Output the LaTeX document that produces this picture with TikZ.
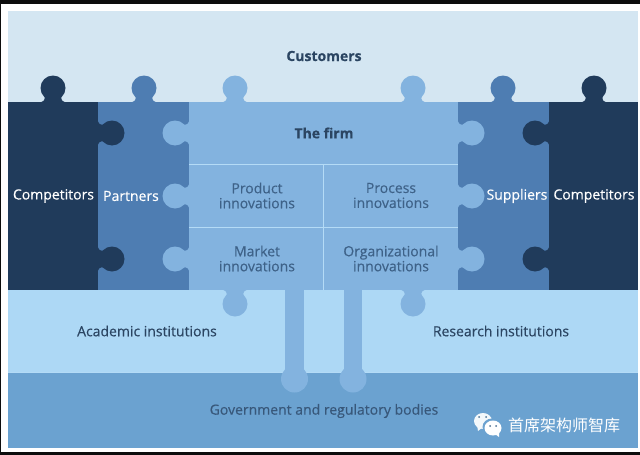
\documentclass[tikz,border=0pt]{standalone}
\usepackage{fontspec}
\setmainfont[RawFeature={embolden=0.35}]{Open Sans}
\newfontfamily\cjkfont{Noto Sans CJK SC}
\usepackage{tikz}
\usetikzlibrary{positioning, calc}

\definecolor{navypiece}{HTML}{203B5B}
\definecolor{midpiece}{HTML}{4E7DB2}
\definecolor{firmpiece}{HTML}{83B3DF}
\definecolor{skyband}{HTML}{D4E6F2}
\definecolor{paleband}{HTML}{ADD8F5}
\definecolor{govband}{HTML}{6BA2D0}
\definecolor{rulecol}{HTML}{B4DBF6}
\definecolor{inktext}{HTML}{2B4562}
\definecolor{softtext}{HTML}{3E6288}

\begin{document}
\begin{tikzpicture}[
  x=1pt, y=-1pt,
  every node/.style={font=\fontsize{14}{15}\selectfont, inner sep=0pt, align=center},
  band/.style={fill=#1, minimum width=630pt},
  piece/.style={fill=#1, minimum height=188pt},
  title/.style={text=inktext, font=\fontsize{14}{15}\selectfont\bfseries},
  cell/.style={text=softtext},
  outer/.style={text=inktext},
  whitelabel/.style={text=white},
  divider/.style={draw=rulecol, line width=1.2pt},
  knob/.pic={
    \path[pic actions, draw=none] (0,-14) circle[radius=12.5];
    \path[pic actions, draw=none]
      (-12.5,0.5) .. controls (-9.5,0) and (-8,-2) .. (-8.5,-5.5)
      -- (8.5,-5.5) .. controls (8,-2) and (9.5,0) .. (12.5,0.5) -- cycle;
  },
]
\useasboundingbox (0,0) rectangle (640,455);
\fill[white] (0,0) rectangle (640,455);
\fill[black!95] (0,0) rectangle (640,4);
\fill[black!95] (0,452) rectangle (640,455);
\fill[black!95] (0,0) rectangle (1.2,455);

%% ROW 0 -- bands behind the pieces
\node[band=skyband, minimum height=91pt, anchor=north west] (customers) at (8,11) {};
\node[band=paleband, minimum height=82pt, anchor=north west] (institutes) at (8,290) {};
\node[band=govband, minimum height=76pt, anchor=north west] (government) at (8,372) {};
\draw[rulecol, line width=0.8pt] (government.north west) -- (government.north east);

%% ROW 1 -- the pieces, outer ones first
\node[piece=navypiece, minimum width=90pt, anchor=north west] (compL) at (8,102) {};
\node[piece=midpiece, minimum width=91pt, anchor=north west] (partners) at (98,102) {};
\node[piece=firmpiece, minimum width=269pt, anchor=north west] (firm) at (189,102) {};
\node[piece=midpiece, minimum width=91pt, anchor=north west] (suppliers) at (458,102) {};
\node[piece=navypiece, minimum width=89pt, anchor=north west] (compR) at (549,102) {};

%% knobs on top of every piece
\foreach \xpos/\col in {53/navypiece, 144/midpiece, 235/firmpiece,
                        413/firmpiece, 503/midpiece, 594/navypiece}
  \pic[fill=\col] at (\xpos,102) {knob};

%% knobs of the outer pieces, pointing inwards
\foreach \ypos in {133,259} {
  \pic[fill=navypiece, rotate=-90] at (98,\ypos) {knob};
  \pic[fill=navypiece, rotate=90] at (549,\ypos) {knob};
}

%% knobs of the firm, left / right / below
\foreach \ypos in {133,196,259} {
  \pic[fill=firmpiece, rotate=90] at (189,\ypos) {knob};
  \pic[fill=firmpiece, rotate=-90] at (458,\ypos) {knob};
}
\foreach \xpos in {235,413}
  \pic[fill=firmpiece, rotate=180] at (\xpos,290) {knob};

%% long stems down to the government band
\fill[firmpiece] (285,290) rectangle (304,372);
\fill[firmpiece] (344,290) rectangle (362,372);
\fill[firmpiece] (294.5,379) circle[radius=13.5];
\fill[firmpiece] (353,379) circle[radius=13.5];

%% dividers inside the firm
\coordinate (ruleA) at (189,164.5);
\coordinate (ruleB) at (458,164.5);
\coordinate (ruleC) at (189,227.5);
\coordinate (ruleD) at (458,227.5);
\coordinate (ruleE) at (323.5,164.5);
\coordinate (ruleF) at (323.5,290);
\draw[divider] (ruleA) -- (ruleB);
\draw[divider] (ruleC) -- (ruleD);
\draw[divider] (ruleE) -- (ruleF);

%% labels
\node[title] (lblCustomers) at (324,56) {Customers};
\node[title] (lblFirm) at (324,133) {The firm};
\node[whitelabel] (lblCompL) at (53.5,196) {Competitors};
\node[whitelabel] (lblPartners) at (131,196) {Partners};
\node[whitelabel] (lblSuppliers) at (517,196) {Suppliers};
\node[whitelabel] (lblCompR) at (594,196) {Competitors};
\node[cell] (lblProduct) at (257,195.5) {Product\\innovations};
\node[cell] (lblProcess) at (391,195.5) {Process\\innovations};
\node[cell] (lblMarket) at (257,258.5) {Market\\innovations};
\node[cell] (lblOrg) at (391,258.5) {Organizational\\innovations};
\node[outer] (lblAcademic) at (147,331) {Academic institutions};
\node[outer] (lblResearch) at (501,331) {Research institutions};
\node[outer, text=softtext!90!black] (lblGov) at (324,411) {Government and regulatory bodies};

%% chat bubbles and caption in the corner
\fill[white!92!govband] (483,421) ellipse[x radius=9, y radius=8];
\fill[white!92!govband] (478,431) -- (477,425) -- (483,427) -- cycle;
\fill[govband] (492,427) ellipse[x radius=9.5, y radius=8.5];
\fill[white] (493,428) ellipse[x radius=8.5, y radius=7.5];
\fill[white] (499,437) -- (499,432) -- (495,434) -- cycle;
\foreach \xpos/\ypos in {479/417, 486/417, 490/426, 496/426}
  \fill[govband!70!black] (\xpos,\ypos) circle[radius=1];
\node[text=white, font=\cjkfont\fontsize{16}{17}\selectfont] (caption) at (564,425) {首席架构师智库};

\end{tikzpicture}
\end{document}
